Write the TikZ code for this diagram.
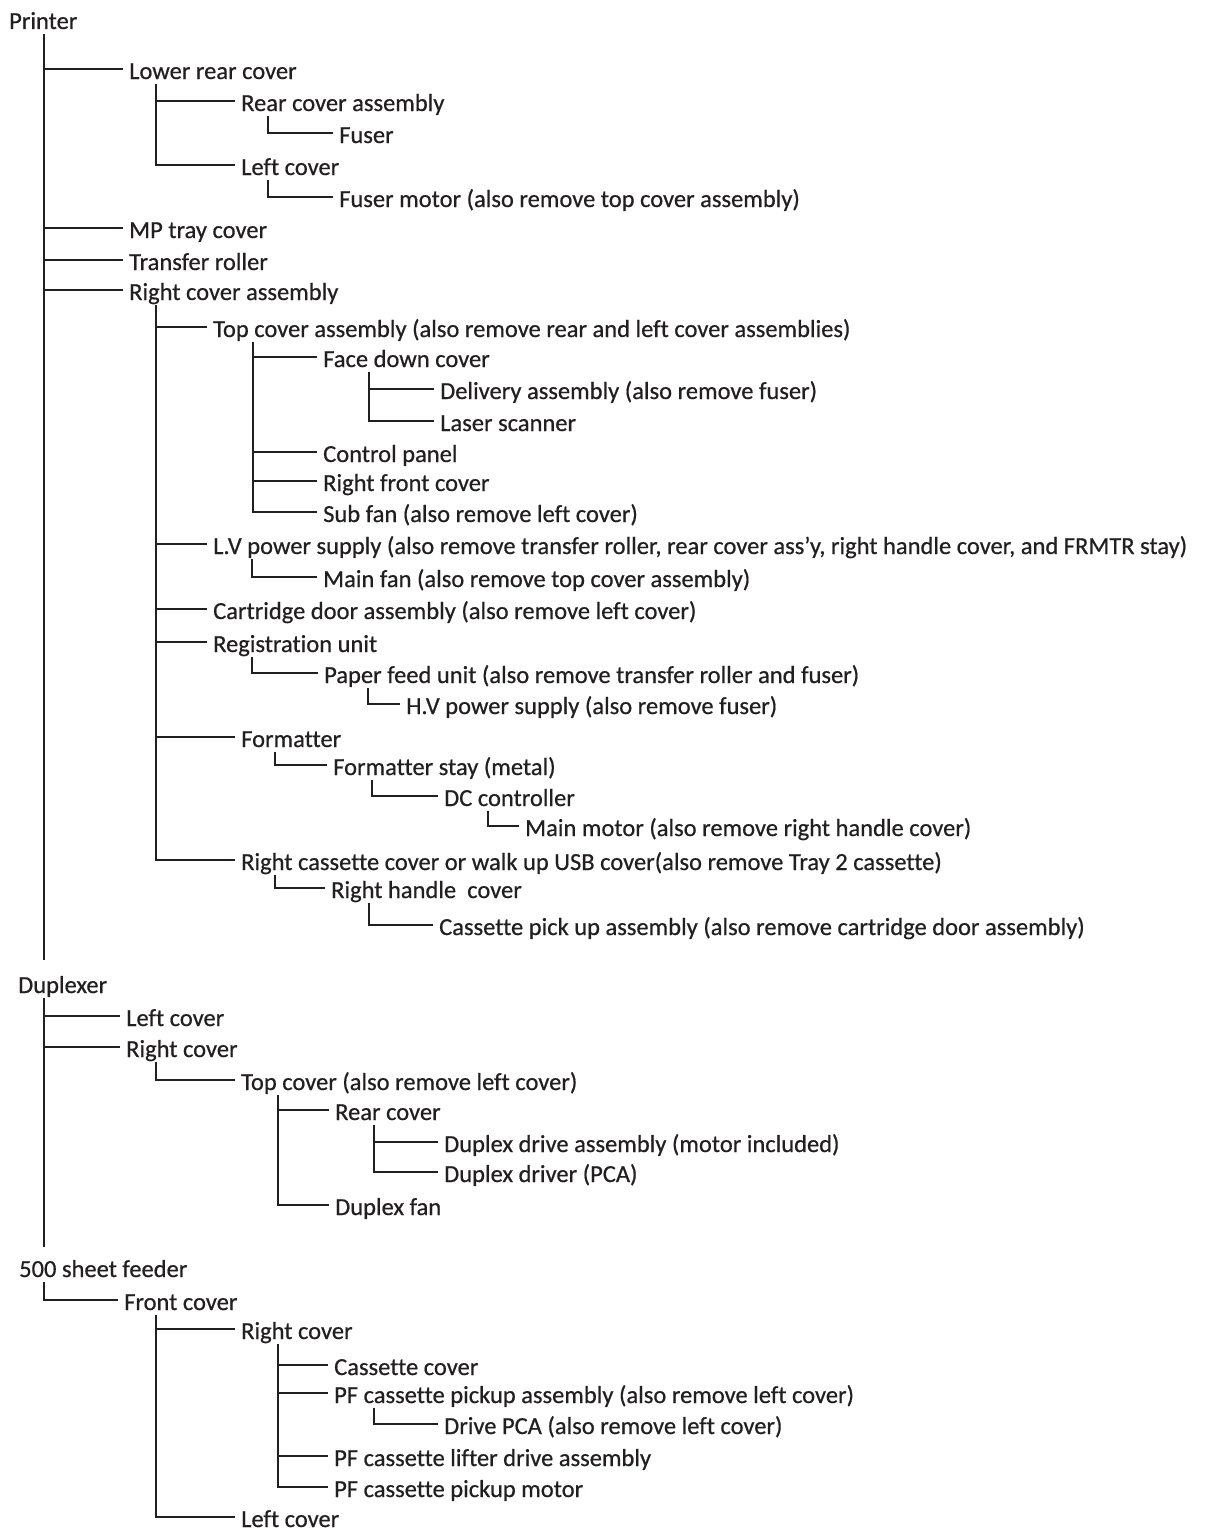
\documentclass[tikz,border=0pt]{standalone}
\usepackage{fontspec}
\setmainfont{Carlito}[Ligatures=NoCommon, FakeBold=0.6]
\usepackage{tikz}

\definecolor{ink}{HTML}{231F20}

\tikzset{
  item/.style={anchor=west, inner xsep=6pt, inner ysep=0pt, text height=25pt, text depth=5pt, text=ink, font=\fontsize{24.5}{28}\selectfont},
  link/.style={draw=ink, line width=1.9pt}
}

\begin{document}
\begin{tikzpicture}[x=1pt,y=-1pt]
  \useasboundingbox (0,0) rectangle (1207,1528);

  % printer tree
  \node[item] (prn) at (3,19) {Printer};
  \node[item] (lrc) at (123,69) {Lower rear cover};
  \node[item] (rca) at (235,101) {Rear cover assembly};
  \node[item] (fus) at (333,133) {Fuser};
  \node[item] (lfc) at (235,165) {Left cover};
  \node[item] (fmo) at (333,197) {Fuser motor (also remove top cover assembly)};
  \node[item] (mpt) at (123,228) {MP tray cover};
  \node[item] (trr) at (123,260) {Transfer roller};
  \node[item] (rgt) at (123,290) {Right cover assembly};
  \node[item] (tca) at (207,327) {Top cover assembly (also remove rear and left cover assemblies)};
  \node[item] (fdc) at (317,357) {Face down cover};
  \node[item] (dlv) at (434,389) {Delivery assembly (also remove fuser)};
  \node[item] (lsr) at (434,421) {Laser scanner};
  \node[item] (cpn) at (317,452) {Control panel};
  \node[item] (rfc) at (317,481) {Right front cover};
  \node[item] (sfn) at (317,512) {Sub fan (also remove left cover)};
  \node[item] (lvp) at (207,544) {L.V power supply (also remove transfer roller, rear cover ass'y, right handle cover, and FRMTR stay)};
  \node[item] (mfn) at (317,577) {Main fan (also remove top cover assembly)};
  \node[item] (cda) at (207,609) {Cartridge door assembly (also remove left cover)};
  \node[item] (reg) at (207,642) {Registration unit};
  \node[item] (pfu) at (318,673) {Paper feed unit (also remove transfer roller and fuser)};
  \node[item] (hvp) at (400,704) {H.V power supply (also remove fuser)};
  \node[item] (fmt) at (235,737) {Formatter};
  \node[item] (fms) at (327,765) {Formatter stay (metal)};
  \node[item] (dcc) at (438,796) {DC controller};
  \node[item] (mmo) at (519,826) {Main motor (also remove right handle cover)};
  \node[item] (rcc) at (235,860) {Right cassette cover or walk up USB cover(also remove Tray 2 cassette)};
  \node[item] (rhc) at (325,888) {Right handle\ \ cover};
  \node[item] (cpu) at (433,925) {Cassette pick up assembly (also remove cartridge door assembly)};
  \coordinate (prnend) at (44,960);

  \draw[link] ([xshift=41pt]prn.south west) -- (prnend);
  \draw[link] ([xshift=41pt]prn.south west) |- (lrc.west);
  \draw[link] ([xshift=33pt]lrc.south west) |- (rca.west);
  \draw[link] ([xshift=33pt]rca.south west) |- (fus.west);
  \draw[link] ([xshift=33pt]lrc.south west) |- (lfc.west);
  \draw[link] ([xshift=33pt]lfc.south west) |- (fmo.west);
  \draw[link] ([xshift=41pt]prn.south west) |- (mpt.west);
  \draw[link] ([xshift=41pt]prn.south west) |- (trr.west);
  \draw[link] ([xshift=41pt]prn.south west) |- (rgt.west);
  \draw[link] ([xshift=33pt]rgt.south west) |- (tca.west);
  \draw[link] ([xshift=46pt]tca.south west) |- (fdc.west);
  \draw[link] ([xshift=52pt]fdc.south west) |- (dlv.west);
  \draw[link] ([xshift=52pt]fdc.south west) |- (lsr.west);
  \draw[link] ([xshift=46pt]tca.south west) |- (cpn.west);
  \draw[link] ([xshift=46pt]tca.south west) |- (rfc.west);
  \draw[link] ([xshift=46pt]tca.south west) |- (sfn.west);
  \draw[link] ([xshift=33pt]rgt.south west) |- (lvp.west);
  \draw[link] ([xshift=45pt]lvp.south west) |- (mfn.west);
  \draw[link] ([xshift=33pt]rgt.south west) |- (cda.west);
  \draw[link] ([xshift=33pt]rgt.south west) |- (reg.west);
  \draw[link] ([xshift=45pt]reg.south west) |- (pfu.west);
  \draw[link] ([xshift=50pt]pfu.south west) |- (hvp.west);
  \draw[link] ([xshift=33pt]rgt.south west) |- (fmt.west);
  \draw[link] ([xshift=40pt]fmt.south west) |- (fms.west);
  \draw[link] ([xshift=45pt]fms.south west) |- (dcc.west);
  \draw[link] ([xshift=50pt]dcc.south west) |- (mmo.west);
  \draw[link] ([xshift=33pt]rgt.south west) |- (rcc.west);
  \draw[link] ([xshift=40pt]rcc.south west) |- (rhc.west);
  \draw[link] ([xshift=44pt]rhc.south west) |- (cpu.west);

  % duplexer tree
  \node[item] (dup) at (12,983) {Duplexer};
  \node[item] (dlc) at (120,1016) {Left cover};
  \node[item] (drc) at (120,1047) {Right cover};
  \node[item] (dtc) at (235,1080) {Top cover (also remove left cover)};
  \node[item] (drr) at (329,1110) {Rear cover};
  \node[item] (dda) at (438,1142) {Duplex drive assembly (motor included)};
  \node[item] (ddp) at (438,1172) {Duplex driver (PCA)};
  \node[item] (dfn) at (329,1205) {Duplex fan};
  \coordinate (dupend) at (44,1247);

  \draw[link] ([xshift=32pt]dup.south west) -- (dupend);
  \draw[link] ([xshift=32pt]dup.south west) |- (dlc.west);
  \draw[link] ([xshift=32pt]dup.south west) |- (drc.west);
  \draw[link] ([xshift=36pt]drc.south west) |- (dtc.west);
  \draw[link] ([xshift=43pt]dtc.south west) |- (drr.west);
  \draw[link] ([xshift=45pt]drr.south west) |- (dda.west);
  \draw[link] ([xshift=45pt]drr.south west) |- (ddp.west);
  \draw[link] ([xshift=43pt]dtc.south west) |- (dfn.west);

  % 500 sheet feeder tree
  \node[item] (shf) at (13,1267) {500 sheet feeder};
  \node[item] (sfc) at (118,1300) {Front cover};
  \node[item] (src) at (235,1329) {Right cover};
  \node[item] (scc) at (328,1365) {Cassette cover};
  \node[item] (spa) at (328,1393) {PF cassette pickup assembly (also remove left cover)};
  \node[item] (spc) at (438,1424) {Drive PCA (also remove left cover)};
  \node[item] (slf) at (328,1456) {PF cassette lifter drive assembly};
  \node[item] (spm) at (328,1487) {PF cassette pickup motor};
  \node[item] (slc) at (235,1517) {Left cover};

  \draw[link] ([xshift=31pt]shf.south west) |- (sfc.west);
  \draw[link] ([xshift=38pt]sfc.south west) |- (src.west);
  \draw[link] ([xshift=43pt]src.south west) |- (scc.west);
  \draw[link] ([xshift=43pt]src.south west) |- (spa.west);
  \draw[link] ([xshift=46pt]spa.south west) |- (spc.west);
  \draw[link] ([xshift=43pt]src.south west) |- (slf.west);
  \draw[link] ([xshift=43pt]src.south west) |- (spm.west);
  \draw[link] ([xshift=38pt]sfc.south west) |- (slc.west);
\end{tikzpicture}
\end{document}
